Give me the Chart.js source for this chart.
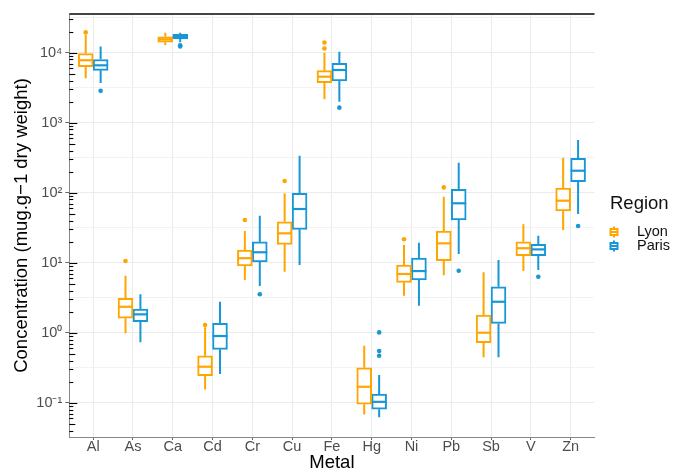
<!DOCTYPE html>
<html>
<head>
<meta charset="utf-8">
<script src="https://cdn.jsdelivr.net/npm/chart.js@4.4.1/dist/chart.umd.min.js"></script>
<style>
  html, body { margin: 0; padding: 0; background: #fff; }
  #wrap { width: 686px; height: 474px; }
</style>
</head>
<body>
<div id="wrap"><canvas id="c" width="686" height="474"></canvas></div>
<script>
// ---------- data ----------
const metals = ['Al','As','Ca','Cd','Cr','Cu','Fe','Hg','Ni','Pb','Sb','V','Zn'];

const lyonMin = [4300, 0.98, 12900, 0.155, 5.66, 7.43, 2160, 0.068, 3.38, 6.6, 0.445, 7.6, 29.3];
const lyonQ1  = [6300, 1.61, 14100, 0.243, 8.97, 18.3, 3730, 0.095, 5.25, 10.7, 0.72, 12.6, 54.8];
const lyonMed = [7800, 2.35, 15500, 0.327, 11.6, 26.3, 4540, 0.169, 6.9, 18.9, 1.0, 16.1, 76.9];
const lyonQ3  = [9700, 3.1, 16900, 0.469, 15.2, 38.5, 5530, 0.316, 9.27, 28.4, 1.79, 19.9, 116];
const lyonMax = [18000, 6.52, 19300, 1.2, 28.4, 98, 10000, 0.652, 17.9, 87.7, 7.3, 35.4, 316];
const lyonOut = [[19500],[10.6],[],[1.29],[40.7],[147],[11500,14000],[],[21.6],[119],[],[],[]];

const parisMin = [3700, 0.73, 14100, 0.257, 4.65, 9.27, 1995, 0.062, 2.43, 13.3, 0.445, 7.87, 49.6];
const parisQ1  = [5600, 1.44, 15700, 0.579, 10.3, 30, 3940, 0.081, 5.66, 40.7, 1.36, 12.6, 144];
const parisMed = [6600, 1.83, 16800, 0.897, 14.1, 58.5, 5660, 0.103, 7.6, 70.6, 2.77, 15.5, 206];
const parisQ3  = [8000, 2.18, 18300, 1.36, 19.8, 98, 7060, 0.133, 11.6, 112, 4.54, 18.3, 310];
const parisMax = [12300, 3.54, 19300, 2.77, 46.9, 338, 10300, 0.249, 19.3, 268, 10.9, 24.3, 566];
const parisOut = [[2850],[],[12300,12800],[],[3.54],[],[1640],[0.469,0.548,1.01],[],[7.69],[],[6.31],[33.4]];

const yExponents = [-1, -0.5, 0, 0.5, 1, 1.5, 2, 2.5, 3, 3.5, 4, 4.5];

const seriesNames = ['Lyon', 'Paris'];
const ORANGE = '#FFA500';
const BLUE = '#1897D6';
const DODGE = 0.1875;

// ---------- helpers ----------
const FONT = "'Liberation Sans', Arial, Helvetica, sans-serif";
const SUP = {'0':'⁰','1':'¹','2':'²','3':'³','4':'⁴','5':'⁵','-':'⁻'};
function supText(n) { return String(n).split('').map(c => SUP[c] || c).join(''); }
function isDecade(v) { const e = Math.log10(v); return Math.abs(e - Math.round(e)) < 1e-6; }

function boxes(off, q1, q3) { return metals.map((m, i) => ({ x: i + off, y: [q1[i], q3[i]] })); }
function outs(off, arr) {
  const pts = [];
  arr.forEach((list, i) => list.forEach(v => pts.push({ x: i + off, y: v })));
  return pts;
}

const boxPlugin = {
  id: 'boxExtras',
  beforeDatasetsDraw(chart) {
    const ctx = chart.ctx, y = chart.scales.y;
    ctx.save();
    chart.data.datasets.forEach((ds, di) => {
      if (!ds.stats) return;
      const meta = chart.getDatasetMeta(di);
      ctx.strokeStyle = ds.borderColor;
      ctx.lineWidth = 2;
      meta.data.forEach((el, i) => {
        const x = el.x;
        ctx.beginPath();
        ctx.moveTo(x, y.getPixelForValue(ds.stats.max[i]));
        ctx.lineTo(x, y.getPixelForValue(ds.stats.q3[i]));
        ctx.moveTo(x, y.getPixelForValue(ds.stats.q1[i]));
        ctx.lineTo(x, y.getPixelForValue(ds.stats.min[i]));
        ctx.stroke();
      });
    });
    ctx.restore();
  },
  afterDatasetsDraw(chart) {
    const ctx = chart.ctx, y = chart.scales.y, area = chart.chartArea;
    ctx.save();
    // medians
    chart.data.datasets.forEach((ds, di) => {
      if (!ds.stats) return;
      const meta = chart.getDatasetMeta(di);
      ctx.strokeStyle = ds.borderColor;
      ctx.lineWidth = 2.2;
      meta.data.forEach((el, i) => {
        const py = y.getPixelForValue(ds.stats.med[i]);
        ctx.beginPath();
        ctx.moveTo(el.x - el.width / 2, py);
        ctx.lineTo(el.x + el.width / 2, py);
        ctx.stroke();
      });
    });
    // log ticks (inside panel, left side)
    ctx.strokeStyle = '#000';
    ctx.lineWidth = 1.1;
    for (let d = -3; d <= 5; d++) {
      for (let k = 1; k <= 9; k++) {
        const v = k * Math.pow(10, d);
        if (v < y.min || v > y.max) continue;
        const py = Math.round(y.getPixelForValue(v)) + 0.5;
        const len = k === 1 ? 8 : (k === 5 ? 6 : 4);
        ctx.beginPath();
        ctx.moveTo(area.left, py);
        ctx.lineTo(area.left + len, py);
        ctx.stroke();
      }
    }
    // top border
    ctx.strokeStyle = '#444';
    ctx.lineWidth = 1.8;
    ctx.beginPath();
    ctx.moveTo(area.left, area.top);
    ctx.lineTo(area.right, area.top);
    ctx.stroke();
    ctx.restore();
  },
  afterDraw(chart) {
    const ctx = chart.ctx;
    ctx.save();
    ctx.fillStyle = '#111';
    ctx.textBaseline = 'middle';
    ctx.textAlign = 'left';
    ctx.font = '18.5px ' + FONT;
    ctx.fillText('Region', 610, 204);
    const cols = [ORANGE, BLUE];
    const ys = [232, 246];
    seriesNames.forEach((name, i) => {
      const cx = 614, cy = ys[i];
      ctx.strokeStyle = cols[i];
      ctx.lineWidth = 2;
      ctx.beginPath();
      ctx.moveTo(cx, cy - 5.5); ctx.lineTo(cx, cy + 5.5);
      ctx.stroke();
      ctx.fillStyle = '#fff';
      ctx.fillRect(cx - 3.5, cy - 3, 7, 6);
      ctx.strokeRect(cx - 3.5, cy - 3, 7, 6);
      ctx.beginPath();
      ctx.moveTo(cx - 3.5, cy); ctx.lineTo(cx + 3.5, cy);
      ctx.stroke();
      ctx.fillStyle = '#111';
      ctx.font = '14.5px ' + FONT;
      ctx.fillText(name, 637, cy);
    });
    ctx.restore();
  }
};

const datasets = [
  {
    type: 'bar', label: 'Lyon', data: boxes(-DODGE, lyonQ1, lyonQ3),
    backgroundColor: '#ffffff', borderColor: ORANGE, borderWidth: 2, borderSkipped: false,
    stats: { min: lyonMin, q1: lyonQ1, med: lyonMed, q3: lyonQ3, max: lyonMax }
  },
  {
    type: 'bar', label: 'Paris', data: boxes(DODGE, parisQ1, parisQ3),
    backgroundColor: '#ffffff', borderColor: BLUE, borderWidth: 2, borderSkipped: false,
    stats: { min: parisMin, q1: parisQ1, med: parisMed, q3: parisQ3, max: parisMax }
  },
  {
    type: 'scatter', label: 'Lyon outliers', data: outs(-DODGE, lyonOut),
    backgroundColor: ORANGE, borderColor: ORANGE, pointRadius: 2.3, pointBorderWidth: 0, showLine: false
  },
  {
    type: 'scatter', label: 'Paris outliers', data: outs(DODGE, parisOut),
    backgroundColor: BLUE, borderColor: BLUE, pointRadius: 2.3, pointBorderWidth: 0, showLine: false
  }
];

new Chart(document.getElementById('c'), {
  type: 'bar',
  data: { datasets },
  plugins: [boxPlugin],
  options: {
    responsive: false,
    animation: false,
    events: [],
    layout: { padding: { top: 14, right: 91.5, bottom: 0, left: 0 } },
    datasets: { bar: { grouped: false, barPercentage: 1, categoryPercentage: 1 } },
    plugins: { legend: { display: false }, tooltip: { enabled: false }, title: { display: false } },
    scales: {
      x: {
        type: 'linear', min: -0.6, max: 12.6, offset: false,
        afterBuildTicks: s => { s.ticks = metals.map((m, i) => ({ value: i })); },
        afterFit: s => { s.height = 37; },
        ticks: {
          autoSkip: false, maxRotation: 0, padding: 0,
          color: '#4D4D4D', font: { family: FONT, size: 14.5, lineHeight: 1 },
          callback: v => metals[v] !== undefined ? metals[v] : ''
        },
        grid: { offset: false, color: '#EBEBEB', lineWidth: 1, tickColor: '#666', tickLength: 3 },
        border: { color: '#888', width: 1 },
        title: { display: true, text: 'Metal', color: '#000',
                 font: { family: FONT, size: 18.5, lineHeight: 1 }, padding: { top: 0, bottom: 2 } }
      },
      y: {
        type: 'logarithmic', min: 0.0324, max: 35700, offset: false,
        afterBuildTicks: s => { s.ticks = yExponents.map(e => ({ value: Math.pow(10, e) })); },
        afterFit: s => { s.width = 69.3; },
        ticks: {
          autoSkip: false, padding: 3,
          color: '#4D4D4D', font: { family: FONT, size: 14.5 },
          callback: v => isDecade(v) ? '10' + supText(Math.round(Math.log10(v))) : ''
        },
        grid: {
          color: c => (c.tick && isDecade(c.tick.value)) ? '#EBEBEB' : '#F2F2F2',
          lineWidth: 1,
          tickColor: c => (c.tick && isDecade(c.tick.value)) ? '#666' : 'rgba(0,0,0,0)',
          tickLength: 4
        },
        border: { color: '#888', width: 1 },
        title: { display: true, text: 'Concentration (mug.g\u22121 dry weight)', color: '#000',
                 font: { family: FONT, size: 18.5, lineHeight: 1 }, padding: { top: 12.5, bottom: 0 } }
      }
    }
  }
});
</script>
</body>
</html>
